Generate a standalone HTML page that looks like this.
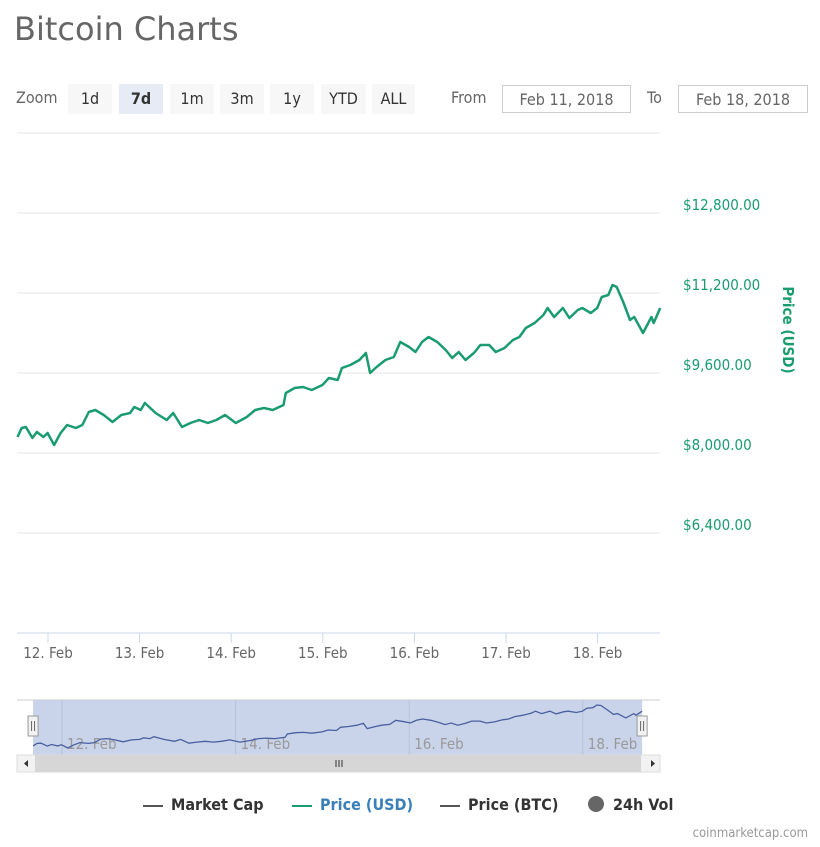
<!DOCTYPE html>
<html><head><meta charset="utf-8"><style>
body{margin:0;background:#fff;font-family:"DejaVu Sans Condensed","DejaVu Sans","Liberation Sans",sans-serif;}
#root{position:relative;width:820px;height:847px;overflow:hidden;}
.abs{position:absolute;}
.btn{position:absolute;top:84px;height:30px;line-height:30px;text-align:center;background:#f7f7f7;color:#333;font-size:16px;}
.inp{position:absolute;top:85px;height:28px;line-height:28px;border:1px solid #ccc;color:#666;font-size:16px;text-align:center;box-sizing:border-box;}
.lbl{position:absolute;color:#666;font-size:16px;top:88px;}
.leg{position:absolute;top:795px;font-size:16px;font-weight:bold;color:#333;}
</style></head><body><div id="root">
<div class="abs" style="left:14px;top:10px;font-size:32px;color:#666;font-family:'DejaVu Sans','Liberation Sans',sans-serif;">Bitcoin Charts</div>
<div class="lbl" style="left:16px;">Zoom</div>
<div class="btn" style="left:68px;width:44px;">1d</div>
<div class="btn" style="left:119px;width:44px;background:#e6ebf5;font-weight:bold;">7d</div>
<div class="btn" style="left:170px;width:44px;">1m</div>
<div class="btn" style="left:220px;width:44px;">3m</div>
<div class="btn" style="left:270px;width:44px;">1y</div>
<div class="btn" style="left:321px;width:45px;">YTD</div>
<div class="btn" style="left:372px;width:43px;">ALL</div>
<div class="lbl" style="left:451px;">From</div>
<div class="inp" style="left:502px;width:129px;">Feb 11, 2018</div>
<div class="lbl" style="left:647px;">To</div>
<div class="inp" style="left:678px;width:130px;">Feb 18, 2018</div>
<svg id="svg" class="abs" style="left:0;top:0" width="820" height="847"></svg>
<div class="leg" style="left:143px;"><span style="display:inline-block;width:20px;height:2px;background:#555;vertical-align:middle;margin-right:8px;"></span>Market Cap</div>
<div class="leg" style="left:292px;color:#3a7fb8;"><span style="display:inline-block;width:20px;height:2px;background:#1a9c6e;vertical-align:middle;margin-right:8px;"></span>Price (USD)</div>
<div class="leg" style="left:440px;"><span style="display:inline-block;width:20px;height:2px;background:#555;vertical-align:middle;margin-right:8px;"></span>Price (BTC)</div>
<div class="leg" style="left:588px;"><span style="display:inline-block;width:16px;height:16px;border-radius:8px;background:#666;vertical-align:-2px;margin-right:9px;"></span>24h Vol</div>
<div class="abs" style="right:12px;top:826px;font-size:13px;color:#999;">coinmarketcap.com</div>
</div>
<script>
const hours=[-8,-6.9,-5.8,-4.1,-2.9,-1.2,-0.1,1.6,3.3,5,7.3,9,10.7,12.4,14.6,16.9,19.2,21.5,22.6,24.3,25.4,28.2,31.1,32.8,35.1,37.3,39.6,41.9,44.1,46.4,49.2,52.1,54.3,56.6,58.9,61.7,62.3,64.6,66.8,69.1,71.9,73.6,75.9,77,79.2,81.6,83.3,84.4,86.1,88.4,90.6,92.3,94.6,96.3,98,99.7,102,104.2,105.9,107.6,109.4,111.6,113.3,115.6,117.3,119.6,121.8,123.5,125.2,127.5,129.8,130.9,132.6,134.9,136.6,138.8,140,142.2,143.9,145.1,146.8,147.9,149,150.7,152.5,153.6,155.9,158.1,158.7,160.4];
const prices=[8320,8500,8520,8300,8420,8320,8400,8160,8400,8560,8500,8560,8820,8860,8760,8620,8760,8800,8920,8860,9000,8800,8660,8800,8520,8600,8660,8600,8660,8760,8600,8720,8860,8900,8860,8960,9200,9300,9320,9260,9360,9500,9460,9700,9760,9860,10000,9600,9720,9860,9920,10220,10120,10020,10220,10320,10220,10060,9900,10020,9860,10000,10160,10160,10020,10100,10260,10320,10500,10600,10760,10900,10720,10900,10700,10860,10900,10800,10900,11120,11160,11360,11320,11020,10660,10720,10400,10720,10600,10900];
const yTicks=[6400,8000,9600,11200,12800];
const yTickLabels=["$6,400.00","$8,000.00","$9,600.00","$11,200.00","$12,800.00"];
const xTickDays=[0,1,2,3,4,5,6];
const xTickLabels=["12. Feb","13. Feb","14. Feb","15. Feb","16. Feb","17. Feb","18. Feb"];
const navTickDays=[0,2,4,6];
const navTickLabels=["12. Feb","14. Feb","16. Feb","18. Feb"];
const NS="http://www.w3.org/2000/svg",svg=document.getElementById('svg');
function mk(t,a,p){const e=document.createElementNS(NS,t);for(const k in a)e.setAttribute(k,a[k]);(p||svg).appendChild(e);return e;}
const x=h=>48+h/24*91.6, y=p=>453-(p-8000)/20;
const nx=h=>62+h/24*86.8, ny=p=>748-(p-8160)*43/3200;
for(let p=6400;p<=14400;p+=1600){const g=mk('line',{x1:17,x2:660,y1:y(p),y2:y(p),stroke:'#e6e6e6'});

}
yTicks.forEach((v,i)=>{const t=mk('text',{x:683,y:y(v)-3,fill:'#1a9c6e','font-size':15});t.textContent=yTickLabels[i];

});
const yt=mk('text',{x:0,y:0,fill:'#1a9c6e','font-size':15,'font-weight':'bold',transform:'translate(783,330) rotate(90)','text-anchor':'middle'});yt.textContent='Price (USD)';


const ax=mk('line',{x1:17,x2:660,y1:633,y2:633,stroke:'#ccd6eb'});


xTickDays.forEach((d,i)=>{const tx=x(d*24);const l=mk('line',{x1:tx,x2:tx,y1:633,y2:643,stroke:'#ccd6eb'});


const t=mk('text',{x:tx,y:658,fill:'#666','font-size':15,'text-anchor':'middle'});t.textContent=xTickLabels[i];

});
const line=mk('path',{d:hours.map((h,i)=>(i?'L':'M')+x(h).toFixed(1)+','+y(prices[i]).toFixed(1)).join(''),fill:'none',stroke:'#1a9c6e','stroke-width':2.5,'stroke-linejoin':'round'});


const nb=mk('rect',{x:17,y:700,width:643,height:55,fill:'#fff',stroke:'none'});


const nm=mk('rect',{x:nx(hours[0]),y:700,width:nx(hours[hours.length-1])-nx(hours[0]),height:55,fill:'#c9d4ea'});


const nt=mk('line',{x1:17,x2:660,y1:700,y2:700,stroke:'#ccc'});


navTickDays.forEach((d,i)=>{const tx=nx(d*24);const l=mk('line',{x1:tx,x2:tx,y1:700,y2:755,stroke:'#b8c2d8'});


const t=mk('text',{x:tx+5,y:749,fill:'#999','font-size':15});t.textContent=navTickLabels[i];

});
const nl=mk('path',{d:hours.map((h,i)=>(i?'L':'M')+nx(h).toFixed(1)+','+ny(prices[i]).toFixed(1)).join(''),fill:'none',stroke:'#4a5fa0','stroke-width':1.3});


[nx(hours[0]),nx(hours[hours.length-1])].forEach((hx,i)=>{const h=mk('rect',{x:hx-5,y:716,width:10,height:20,fill:'#f2f2f2',stroke:'#999'});


mk('line',{x1:hx-1.5,x2:hx-1.5,y1:721,y2:731,stroke:'#666'});mk('line',{x1:hx+1.5,x2:hx+1.5,y1:721,y2:731,stroke:'#666'});});
const sb=mk('rect',{x:17,y:755,width:643,height:17,fill:'#f2f2f2',stroke:'#ddd'});


const th=mk('rect',{x:35,y:755,width:606,height:17,fill:'#d6d6d6'});


[336,339,342].forEach(v=>mk('line',{x1:v,x2:v,y1:760,y2:767,stroke:'#333'}));
const la=mk('path',{d:'M28,760 L24,763.5 L28,767 Z',fill:'#333'});


const ra=mk('path',{d:'M651,760 L655,763.5 L651,767 Z',fill:'#333'});


</script></body></html>
